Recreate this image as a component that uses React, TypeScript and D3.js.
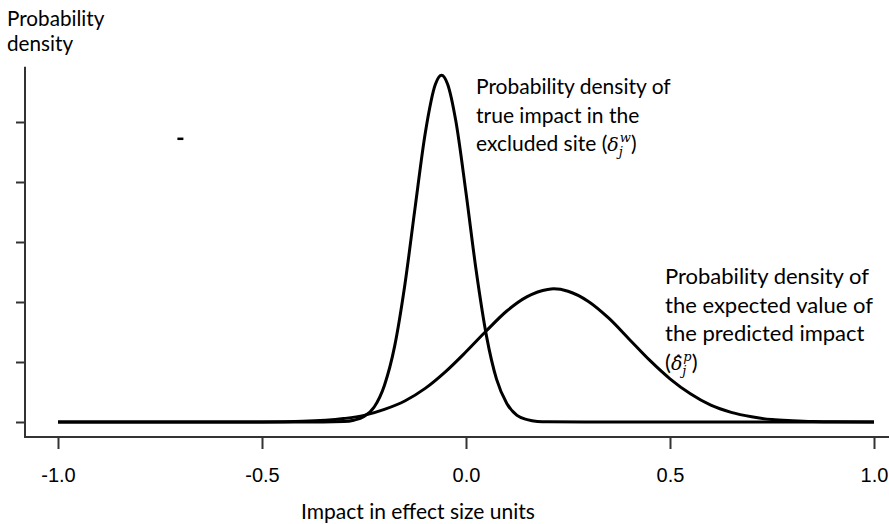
import React, { useRef, useEffect } from "react";
import * as d3 from "d3";

// density of true impact in the excluded site
const narrowX = [-1.0, -0.5, -0.35, -0.3, -0.275, -0.25, -0.225, -0.2, -0.175, -0.15, -0.125, -0.1, -0.075, -0.06, -0.045, -0.025, 0, 0.025, 0.05, 0.075, 0.1, 0.125, 0.15, 0.175, 0.2, 0.3, 1.0];
const narrowY = [0, 0, 0.001, 0.008, 0.03, 0.09, 0.25, 0.61, 1.26, 2.28, 3.56, 4.81, 5.63, 5.78, 5.63, 5.02, 3.82, 2.52, 1.44, 0.71, 0.31, 0.11, 0.04, 0.01, 0.003, 0, 0];

// density of the expected value of the predicted impact
const wideX = [-1.0, -0.6, -0.5, -0.4, -0.3, -0.25, -0.2, -0.15, -0.1, -0.05, 0, 0.05, 0.1, 0.15, 0.2, 0.215, 0.25, 0.3, 0.35, 0.4, 0.45, 0.5, 0.55, 0.6, 0.65, 0.7, 0.75, 0.8, 0.85, 0.9, 1.0];
const wideY = [0, 0, 0.002, 0.012, 0.057, 0.11, 0.21, 0.35, 0.56, 0.84, 1.17, 1.52, 1.85, 2.09, 2.21, 2.22, 2.18, 2.01, 1.73, 1.38, 1.03, 0.72, 0.47, 0.28, 0.16, 0.086, 0.04, 0.02, 0.007, 0.003, 0];

const xTicks = [-1.0, -0.5, 0.0, 0.5, 1.0];
const xTickLabels = ["-1.0", "-0.5", "0.0", "0.5", "1.0"];
const yTicks = [0, 1, 2, 3, 4, 5];

const yTitle = ["Probability", "density"];
const xTitle = "Impact in effect size units";
const noteTrue = ["Probability density of", "true impact in the", "excluded site ("];
const notePred = ["Probability density of", "the expected value of", "the predicted impact", "("];

const App = () => {
  const svgRef = useRef<SVGSVGElement>(null);

  useEffect(() => {
    document.body.style.margin = "0";
    const width = 889;
    const height = 524;
    const svg = d3.select(svgRef.current);
    svg.selectAll("*").remove();
    svg.attr("width", width).attr("height", height);

    const x = d3.scaleLinear().domain([-1, 1]).range([58, 874]);
    const y = d3.scaleLinear().domain([0, 5]).range([422, 122]);
    const axisX = 25;
    const axisY = y(-0.25);
    const axisColor = "#333";
    const textFont = "Lato, 'Open Sans', sans-serif";

    // axes lines
    svg.append("line")
      .attr("x1", axisX).attr("x2", axisX)
      .attr("y1", y(5.92)).attr("y2", axisY)
      .attr("stroke", axisColor).attr("stroke-width", 2);
    svg.append("line")
      .attr("x1", axisX - 1).attr("x2", width)
      .attr("y1", axisY).attr("y2", axisY)
      .attr("stroke", axisColor).attr("stroke-width", 2);

    // y ticks (no labels)
    const gy = svg.append("g")
      .attr("transform", `translate(${axisX},0)`)
      .call(d3.axisLeft(y).tickValues(yTicks).tickSize(9).tickFormat(() => ""));
    gy.select(".domain").remove();
    gy.selectAll("line").attr("stroke", axisColor).attr("stroke-width", 2);

    // x ticks
    const gx = svg.append("g")
      .attr("transform", `translate(0,${axisY})`)
      .call(
        d3.axisBottom(x)
          .tickValues(xTicks)
          .tickSize(12)
          .tickPadding(19)
          .tickFormat((d, i) => xTickLabels[i])
      );
    gx.select(".domain").remove();
    gx.selectAll("line").attr("stroke", axisColor).attr("stroke-width", 2);
    gx.selectAll("text")
      .attr("fill", "#000")
      .style("font-family", "'Liberation Sans', Arial, sans-serif")
      .style("font-size", "20px");

    // curves
    const line = d3.line<[number, number]>()
      .x((d) => x(d[0]))
      .y((d) => y(d[1]))
      .curve(d3.curveMonotoneX);

    [
      narrowX.map((v, i) => [v, narrowY[i]] as [number, number]),
      wideX.map((v, i) => [v, wideY[i]] as [number, number]),
    ].forEach((pts) => {
      svg.append("path")
        .datum(pts)
        .attr("fill", "none")
        .attr("stroke", "#000")
        .attr("stroke-width", 3)
        .attr("stroke-linejoin", "round")
        .attr("d", line);
    });

    // stray mark in the original
    svg.append("line")
      .attr("x1", x(-0.7) - 3).attr("x2", x(-0.7) + 3)
      .attr("y1", y(4.72)).attr("y2", y(4.72))
      .attr("stroke", "#000").attr("stroke-width", 2.5);

    // y title
    yTitle.forEach((t, i) => {
      svg.append("text")
        .attr("x", 7).attr("y", 26 + i * 25)
        .style("font-family", textFont).style("font-size", "20.7px")
        .text(t);
    });

    // x title
    svg.append("text")
      .attr("x", 418).attr("y", 519)
      .attr("text-anchor", "middle")
      .style("font-family", textFont).style("font-size", "21px")
      .text(xTitle);

    const mathFont = "'DejaVu Serif', serif";

    const note = (lines: string[], x0: number, y0: number, size: number, sym: string, sup: string) => {
      const g = svg.append("g").style("font-family", textFont).style("font-size", `${size}px`);
      lines.forEach((t, i) => {
        const txt = g.append("text").attr("x", x0).attr("y", y0 + i * 28.5).text(t);
        if (i === lines.length - 1) {
          txt.append("tspan").style("font-family", mathFont).style("font-style", "italic").style("font-size", "19px").text(sym);
          txt.append("tspan").style("font-family", mathFont).style("font-style", "italic").style("font-size", "13px").attr("dy", 5).text("j");
          txt.append("tspan").style("font-family", mathFont).style("font-style", "italic").style("font-size", "13px").attr("dx", -3).attr("dy", -14).text(sup);
          txt.append("tspan").attr("dy", 9).text(")");
        }
      });
    };

    note(noteTrue, 476, 94, 21, "\u03b4", "w");
    note(notePred, 665, 284, 22, "\u03b4\u0302", "p");
  }, []);

  return <svg ref={svgRef} style={{ display: "block" }}></svg>;
};

export default App;
